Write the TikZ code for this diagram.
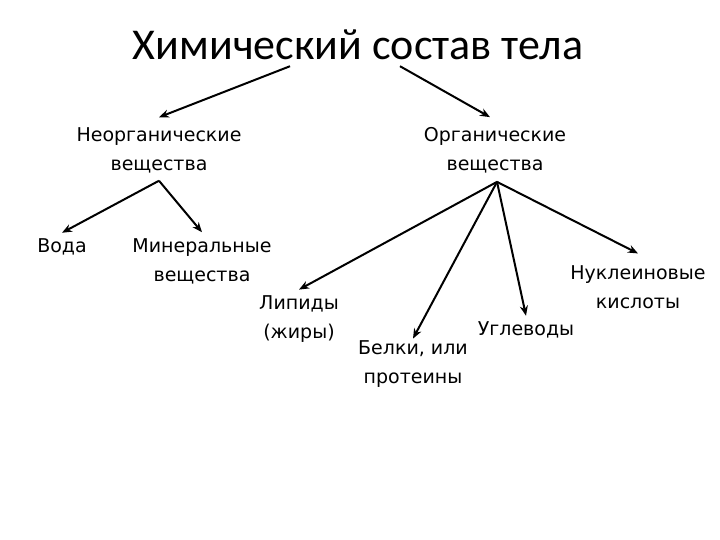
\documentclass[tikz,border=0pt]{standalone}
\usepackage{fontspec}
\setmainfont{DejaVu Sans}
\newfontfamily\titlefont{Carlito}
\usetikzlibrary{arrows.meta}

\tikzset{
  term/.style={align=center, font=\fontsize{19}{29}\selectfont, inner sep=1pt, outer sep=5pt},
  arr/.style={line width=2pt, -{Stealth[length=10pt,width=8pt]}}
}

\begin{document}
\begin{tikzpicture}[x=1pt,y=-1pt]
	\useasboundingbox (0,0) rectangle (720,540);

	% Title
	\node[font=\titlefont\fontsize{44}{52}\selectfont, inner sep=0pt] (title) at (358,45) {Химический состав тела};

	% Groups
	\node[term] (inorg) at (159,150) {Неорганические\\вещества};
	\node[term] (org) at (495,150) {Органические\\вещества};

	% Inorganic substances
	\node[term] (water) at (62,247) {Вода};
	\node[term] (mineral) at (202,261) {Минеральные\\вещества};

	% Organic substances
	\node[term] (lipid) at (299,319) {Липиды\\(жиры)};
	\node[term] (protein) at (413,364) {Белки, или\\протеины};
	\node[term] (carb) at (526,330) {Углеводы};
	\node[term] (nucl) at (638,287) {Нуклеиновые\\кислоты};

	% Arrows
	\draw[arr] ([xshift=-68pt,yshift=-6pt]title.south) -- ([yshift=4pt]inorg.north);
	\draw[arr] ([xshift=42pt,yshift=-6pt]title.south) -- ([xshift=-5pt,yshift=4pt]org.north);
	\draw[arr] ([yshift=-2pt]inorg.south) -- (water.north);
	\draw[arr] ([yshift=-2pt]inorg.south) -- (mineral.north);
	\draw[arr] ([xshift=2pt,yshift=-3pt]org.south) -- (lipid.north);
	\draw[arr] ([xshift=2pt,yshift=-3pt]org.south) -- ([yshift=-4pt]protein.north);
	\draw[arr] ([xshift=2pt,yshift=-3pt]org.south) -- (carb.north);
	\draw[arr] ([xshift=2pt,yshift=-3pt]org.south) -- ([yshift=6pt]nucl.north);
\end{tikzpicture}
\end{document}
